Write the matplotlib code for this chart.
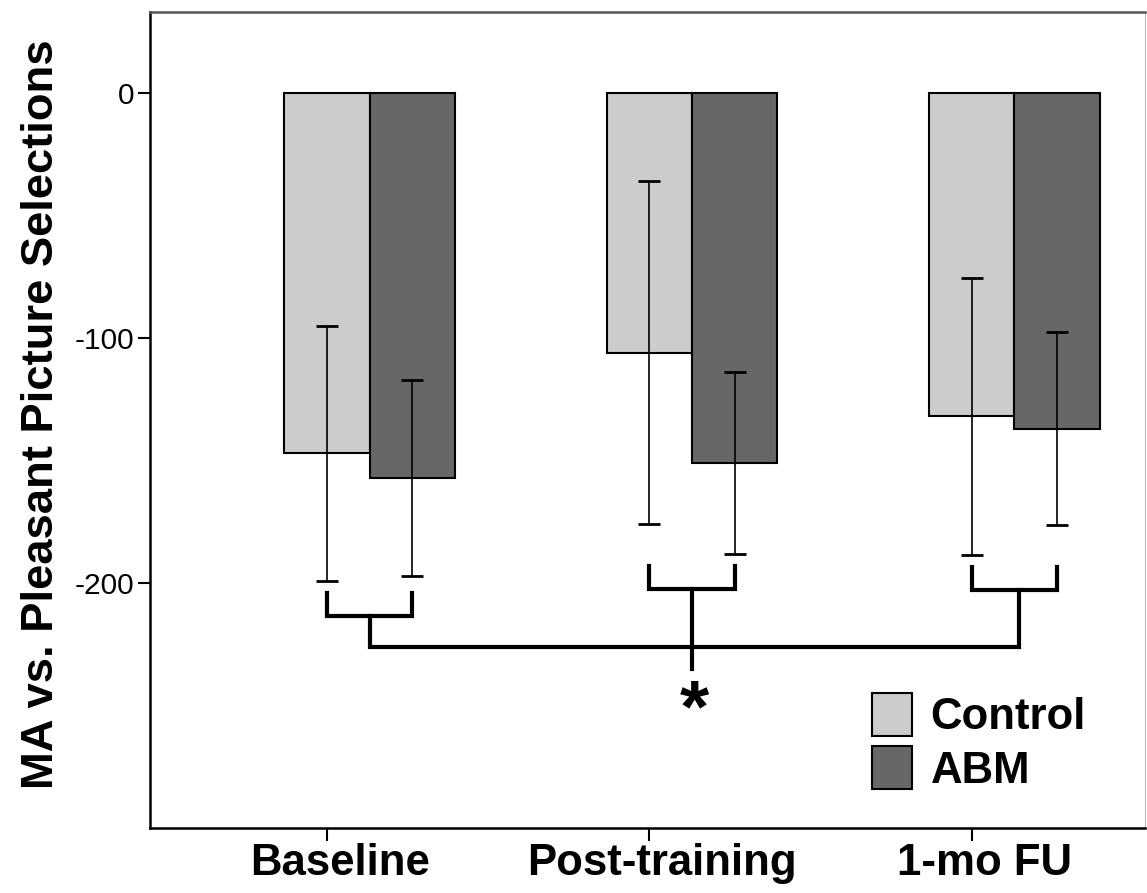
import matplotlib
matplotlib.use('Agg')
import matplotlib.pyplot as plt
import matplotlib.transforms as mtransforms
import numpy as np

plt.rcParams['font.family'] = ['Liberation Sans', 'DejaVu Sans']

groups = ['Baseline', 'Post-training', '1-mo FU']
control_mean = [-147, -106, -132]
abm_mean = [-157, -151, -137]
control_err = [52, 70, 56.5]
abm_err = [40, 37, 39.5]

fig = plt.figure(figsize=(11.47, 8.93), dpi=100)
ax = fig.add_axes([150 / 1147, 1 - 828 / 893, 995 / 1147, 816 / 893])

x = np.arange(len(groups))
w = 0.264
ctrl_x = x - w / 2
abm_x = x + w / 2

ax.bar(ctrl_x, control_mean, w, color='#cccccc', edgecolor='black', linewidth=1.5, label='Control', zorder=2)
ax.bar(abm_x, abm_mean, w, color='#676767', edgecolor='black', linewidth=1.5, label='ABM', zorder=2)
ax.errorbar(ctrl_x, control_mean, yerr=control_err, fmt='none', ecolor='black',
            elinewidth=1.2, capsize=8, capthick=2, zorder=3)
ax.errorbar(abm_x, abm_mean, yerr=abm_err, fmt='none', ecolor='black',
            elinewidth=1.2, capsize=8, capthick=2, zorder=3)

# significance brackets
low = np.minimum(np.array(control_mean) - control_err, np.array(abm_mean) - abm_err)
top = low - 5
hor = top - 9.5
for i in range(len(groups)):
    ax.plot([ctrl_x[i], ctrl_x[i], abm_x[i], abm_x[i]], [top[i], hor[i], hor[i], top[i]],
            color='black', lw=3, solid_joinstyle='miter', zorder=3)
line_y = -226
ax.plot([x[0], x[0], x[2] + 0.015, x[2] + 0.015], [hor[0], line_y, line_y, hor[2]],
        color='black', lw=3, solid_joinstyle='miter', zorder=3)
ax.plot([x[1], x[1]], [hor[1], -235], color='black', lw=3, zorder=3)
ax.text(x[1] + 0.008, -252.5, '*', ha='center', va='center', fontsize=54, fontweight='bold')

ax.set_xlim(-0.681, 2.405)
ax.set_ylim(-300, 33)
ax.set_yticks([0, -100, -200])
ax.set_yticklabels(['0', '-100', '-200'], fontsize=21.5)
ax.set_xticks(ctrl_x)
ax.set_xticklabels([])
# group labels sit a little right of the ticks
offset = mtransforms.ScaledTranslation(0.13, 0, fig.dpi_scale_trans)
for xi, name in zip(ctrl_x, groups):
    ax.text(xi, -0.018, name, transform=ax.get_xaxis_transform() + offset,
            ha='center', va='top', fontsize=31.5, fontweight='bold')
ax.tick_params(axis='both', length=9, width=1.5, color='black')
ax.tick_params(axis='y', pad=2)

ax.set_ylabel('MA vs. Pleasant Picture Selections', fontsize=32.7, fontweight='bold')
ax.yaxis.set_label_coords(-0.088, 0.507)

for side in ['left', 'bottom']:
    ax.spines[side].set_linewidth(1.8)
ax.spines['top'].set_linewidth(1.8)
ax.spines['top'].set_color('#555555')
ax.spines['right'].set_color('#bbbbbb')

ax.legend(loc='upper left', bbox_to_anchor=(0.7256, 0.165), frameon=False,
          prop={'size': 31.5, 'weight': 'bold'}, handlelength=0.92, handleheight=1.12,
          handletextpad=0.42, labelspacing=0.18, borderpad=0, borderaxespad=0)

fig.savefig('out.png', dpi=100)
